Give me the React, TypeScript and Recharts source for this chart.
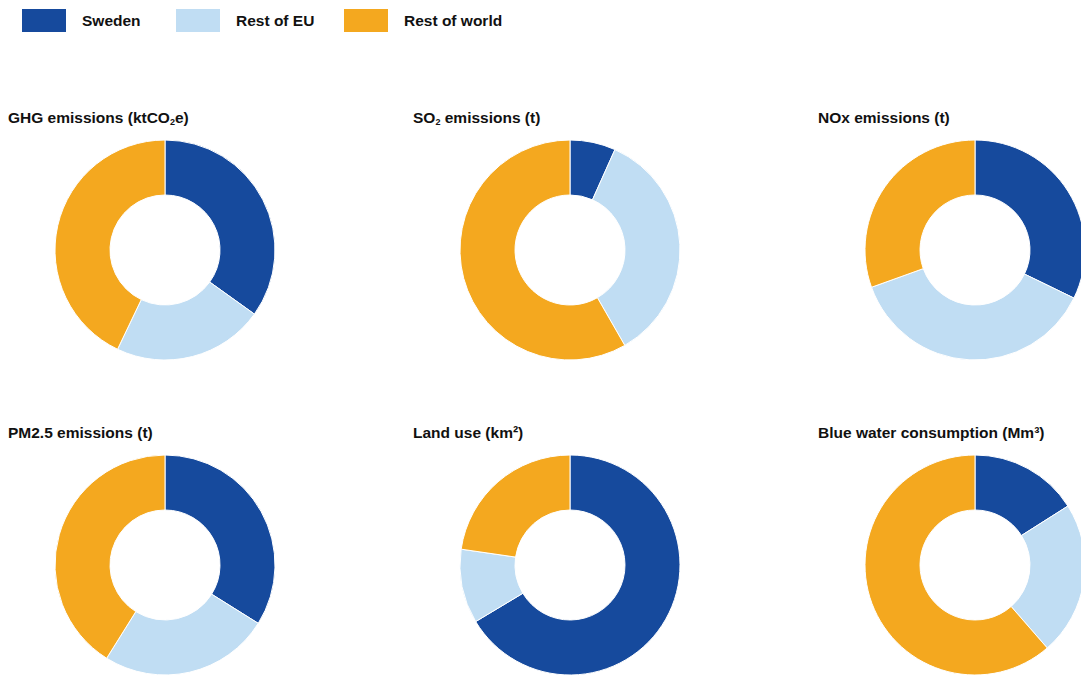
import React from "react";
import { Cell, Pie, PieChart } from "recharts";

const regions = ["Sweden", "Rest of EU", "Rest of world"];
const colors = ["#164a9d", "#c0ddf3", "#f4a81f"];

const ghg = [34.9, 22.2, 42.9];
const so2 = [6.7, 35.0, 58.3];
const nox = [32.2, 37.3, 30.5];
const pm25 = [33.9, 25.0, 41.1];
const landUse = [66.4, 10.9, 22.7];
const blueWater = [16.0, 22.6, 61.4];

const font = "'Liberation Sans', Arial, sans-serif";

const sub = (s: string) => <sub style={{ fontSize: 9, verticalAlign: "-2px" }}>{s}</sub>;

const panels = [
  { title: <>GHG emissions (ktCO{sub("2")}e)</>, values: ghg, cx: 165, cy: 250 },
  { title: <>SO{sub("2")} emissions (t)</>, values: so2, cx: 570, cy: 250 },
  { title: <>NOx emissions (t)</>, values: nox, cx: 975, cy: 250 },
  { title: <>PM2.5 emissions (t)</>, values: pm25, cx: 165, cy: 565 },
  { title: <>Land use (km²)</>, values: landUse, cx: 570, cy: 565 },
  { title: <>Blue water consumption (Mm³)</>, values: blueWater, cx: 975, cy: 565 },
];

const legendX = [22, 176, 344];

export default function App() {
  return (
    <div
      style={{
        position: "absolute",
        left: 0,
        top: 0,
        width: 1081,
        height: 675,
        overflow: "hidden",
        background: "#fff",
        fontFamily: font,
      }}
    >
      {regions.map((r, i) => (
        <div key={r} style={{ position: "absolute", left: legendX[i], top: 9, display: "flex", alignItems: "center" }}>
          <div style={{ width: 44, height: 23, background: colors[i] }} />
          <span style={{ marginLeft: 16, fontSize: 15.5, fontWeight: 700, color: "#111" }}>{r}</span>
        </div>
      ))}

      {panels.map((p, i) => (
        <div
          key={i}
          style={{
            position: "absolute",
            left: p.cx - 157,
            top: p.cy - 141,
            fontSize: 15.5,
            fontWeight: 700,
            color: "#111",
            whiteSpace: "nowrap",
          }}
        >
          {p.title}
        </div>
      ))}

      <div style={{ position: "absolute", left: 0, top: 0 }}>
        <PieChart width={1081} height={675} margin={{ top: 0, right: 0, bottom: 0, left: 0 }}>
          {panels.map((p, i) => (
            <Pie
              key={i}
              data={p.values.map((v, j) => ({ name: regions[j], value: v }))}
              dataKey="value"
              cx={p.cx}
              cy={p.cy}
              innerRadius={55}
              outerRadius={110}
              startAngle={90}
              endAngle={-270}
              stroke="#fff"
              strokeWidth={1}
              isAnimationActive={false}
            >
              {p.values.map((_, j) => (
                <Cell key={j} fill={colors[j]} />
              ))}
            </Pie>
          ))}
        </PieChart>
      </div>
    </div>
  );
}
